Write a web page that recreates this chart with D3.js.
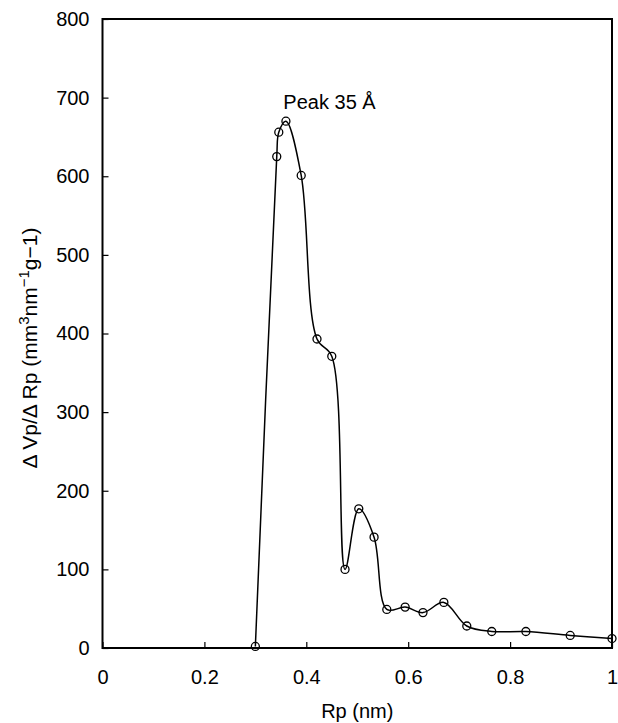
<!DOCTYPE html>
<html>
<head>
<meta charset="utf-8">
<script src="https://cdn.jsdelivr.net/npm/d3@7"></script>
<style>
  body { margin: 0; background: #fff; }
  svg { font-family: "Liberation Sans", Arial, Helvetica, sans-serif; }
</style>
</head>
<body>
<svg width="618" height="723"></svg>
<script>
// pore radius (nm) and dVp/dRp
var rp = [0.300, 0.342, 0.346, 0.360, 0.390, 0.421, 0.450, 0.476, 0.503, 0.533,
          0.558, 0.594, 0.629, 0.670, 0.715, 0.764, 0.831, 0.918, 1.000];
var dv = [2, 625, 656, 670, 601, 393, 371, 100, 177, 141,
          49, 52, 45, 58, 28, 21, 21, 16, 12];
var xTicks = [0, 0.2, 0.4, 0.6, 0.8, 1];
var yTicks = [0, 100, 200, 300, 400, 500, 600, 700, 800];

var svg = d3.select("svg");
var margin = {left: 102.5, right: 6, top: 19, bottom: 75};
var width = +svg.attr("width");
var height = +svg.attr("height");

var x = d3.scaleLinear().domain([0, 1]).range([margin.left, width - margin.right]);
var y = d3.scaleLinear().domain([0, 800]).range([height - margin.bottom, margin.top]);

var fs = 20;

// frame
svg.append("rect")
  .attr("x", x(0)).attr("y", y(800))
  .attr("width", x(1) - x(0)).attr("height", y(0) - y(800))
  .attr("fill", "none").attr("stroke", "#000").attr("stroke-width", 2);

// inward ticks
var xAxis = svg.append("g")
  .attr("transform", "translate(0," + y(0) + ")")
  .call(d3.axisBottom(x).tickValues(xTicks).tickSize(-6).tickPadding(22)
    .tickFormat(function(d) { return d3.format("")(d); }));
var yAxis = svg.append("g")
  .attr("transform", "translate(" + x(0) + ",0)")
  .call(d3.axisLeft(y).tickValues(yTicks).tickSize(-6).tickPadding(13));

[xAxis, yAxis].forEach(function(a) {
  a.select(".domain").remove();
  a.selectAll("line").attr("stroke", "#000").attr("stroke-width", 1.2);
  a.selectAll("text").attr("font-size", fs).attr("fill", "#000")
    .attr("font-family", "Liberation Sans, Arial, sans-serif");
});

// curve
var line = d3.line()
  .x(function(d, i) { return x(rp[i]); })
  .y(function(d, i) { return y(dv[i]); })
  .curve(d3.curveCatmullRom.alpha(0.5));

svg.append("path")
  .datum(dv)
  .attr("d", line)
  .attr("fill", "none")
  .attr("stroke", "#000")
  .attr("stroke-width", 1.5);

svg.selectAll(".pt")
  .data(dv)
  .enter().append("circle")
  .attr("class", "pt")
  .attr("cx", function(d, i) { return x(rp[i]); })
  .attr("cy", function(d) { return y(d); })
  .attr("r", 4)
  .attr("fill", "none")
  .attr("stroke", "#000")
  .attr("stroke-width", 1.3);

// peak label
svg.append("text")
  .attr("x", x(0.355))
  .attr("y", y(670) - 12)
  .attr("font-size", fs)
  .text("Peak 35 Å");

// axis titles
svg.append("text")
  .attr("x", (x(0) + x(1)) / 2)
  .attr("y", 718)
  .attr("text-anchor", "middle")
  .attr("font-size", fs)
  .text("Rp (nm)");

var yt = svg.append("text")
  .attr("transform", "translate(37,348) rotate(-90)")
  .attr("text-anchor", "middle")
  .attr("font-size", 21);
yt.append("tspan").text("Δ Vp/Δ Rp (mm");
yt.append("tspan").attr("dy", -8).attr("font-size", 15).text("3");
yt.append("tspan").attr("dy", 8).text("nm");
yt.append("tspan").attr("dy", -8).attr("font-size", 15).text("−1");
yt.append("tspan").attr("dy", 8).text("g−1)");
</script>
</body>
</html>
